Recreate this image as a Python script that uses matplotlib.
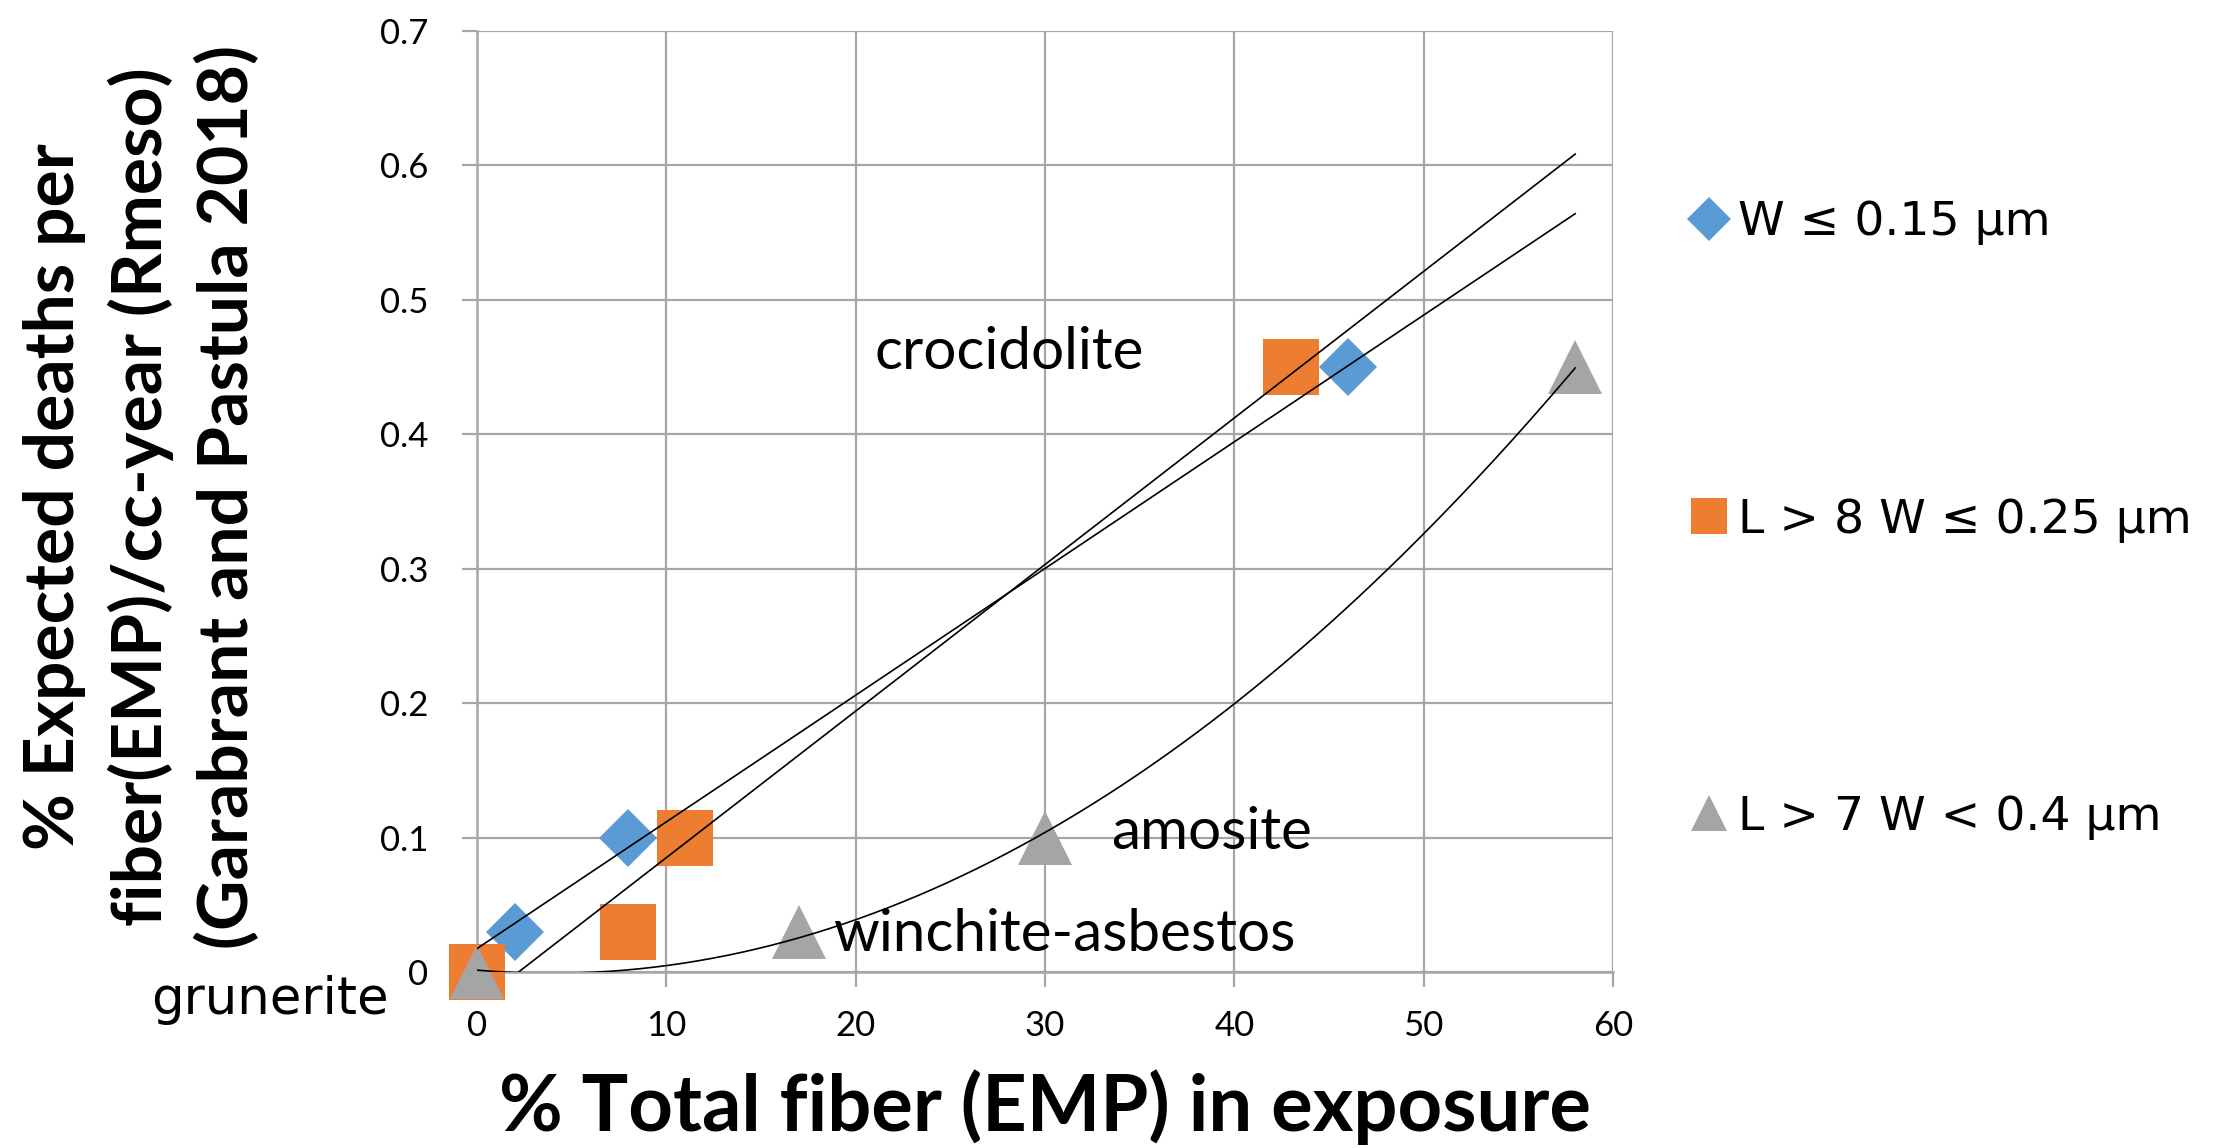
import numpy as np
import matplotlib
matplotlib.use("Agg")
import matplotlib.pyplot as plt
from matplotlib.lines import Line2D

# Fiber-size series: % of total fiber (EMP) in exposure vs expected deaths
blue_x = [2, 8, 46]
blue_y = [0.03, 0.10, 0.45]
orange_x = [0, 8, 11, 43]
orange_y = [0.0, 0.03, 0.10, 0.45]
gray_x = [0, 17, 30, 58]
gray_y = [0.0, 0.03, 0.10, 0.45]

series_labels = ["W \u2264 0.15 \u00b5m", "L > 8 W \u2264 0.25 \u00b5m", "L > 7 W < 0.4 \u00b5m"]
x_ticks = [0, 10, 20, 30, 40, 50, 60]
y_ticks = [0, 0.1, 0.2, 0.3, 0.4, 0.5, 0.6, 0.7]

mineral_names = ["crocidolite", "amosite", "winchite-asbestos", "grunerite"]
mineral_pos = [(21.0, 0.461), (33.5, 0.104), (18.8, 0.028), (-17.2, -0.021)]

BLUE = "#5B9BD5"
ORANGE = "#ED7D31"
GRAY = "#A5A5A5"
GRID = "#A6A6A6"

plt.rcParams["font.family"] = ["Lato", "DejaVu Sans"]

fig = plt.figure(figsize=(22.13, 11.48), dpi=100)
ax = fig.add_axes([0.2155, 0.1533, 0.5134, 0.8197])

ax.plot(blue_x, blue_y, "D", color=BLUE, ms=30, mew=0, zorder=3, clip_on=False)
ax.plot(orange_x, orange_y, "s", color=ORANGE, ms=40, mew=0, zorder=3, clip_on=False)
ax.plot(gray_x, gray_y, "^", color=GRAY, ms=39, mew=0, zorder=3, clip_on=False)

# Trendlines: linear fits for the first two series, quadratic for the third
xx = np.linspace(0, 58, 300)
for xs, ys, deg in [(blue_x, blue_y, 1), (orange_x, orange_y, 1), (gray_x, gray_y, 2)]:
    coef = np.polyfit(xs, ys, deg)
    ax.plot(xx, np.polyval(coef, xx), color="black", lw=1.2, zorder=4)

ax.set_xlim(0, 60)
ax.set_ylim(0, 0.7)
ax.set_xticks(x_ticks)
ax.set_yticks(y_ticks)
ax.set_xticklabels([str(v) for v in x_ticks])
ax.set_yticklabels(["0"] + [f"{v:.1f}" for v in y_ticks[1:]])

ax.grid(True, color=GRID, lw=1.6, zorder=0)
ax.set_axisbelow(True)
for side in ["top", "right"]:
    ax.spines[side].set_visible(False)
for side in ["left", "bottom"]:
    ax.spines[side].set_color(GRID)
    ax.spines[side].set_linewidth(1.8)
ax.tick_params(axis="both", direction="out", length=11, width=1.6, color=GRID,
               labelsize=25, pad=16)
ax.tick_params(axis="y", pad=24)

ax.set_xlabel("% Total fiber (EMP) in exposure", fontsize=56, fontweight="bold", labelpad=20)
fig.text(0.064, 0.567, "% Expected deaths per\nfiber(EMP)/cc-year (Rmeso)\n(Garabrant and Pastula 2018)",
         rotation=90, ha="center", va="center", fontsize=50, fontweight="bold",
         linespacing=1.4)

for name, (tx, ty) in zip(mineral_names, mineral_pos):
    if name == "grunerite":
        ax.text(tx, ty, name, fontsize=37, family=["DejaVu Sans"],
                ha="left", va="center", clip_on=False, zorder=5)
    else:
        ax.text(tx, ty, name, fontsize=42, ha="left", va="center", clip_on=False, zorder=5)

handles = [
    Line2D([], [], ls="none", marker="D", color=BLUE, ms=22, mew=0),
    Line2D([], [], ls="none", marker="s", color=ORANGE, ms=26, mew=0),
    Line2D([], [], ls="none", marker="^", color=GRAY, ms=26, mew=0),
]
fig.legend(handles, series_labels, loc="center left", bbox_to_anchor=(0.751, 0.547),
           frameon=False, handletextpad=0.1, labelspacing=5.34, handlelength=1.0,
           borderpad=0, prop={"family": ["DejaVu Sans"], "size": 34})

fig.savefig("out.png", dpi=100)
